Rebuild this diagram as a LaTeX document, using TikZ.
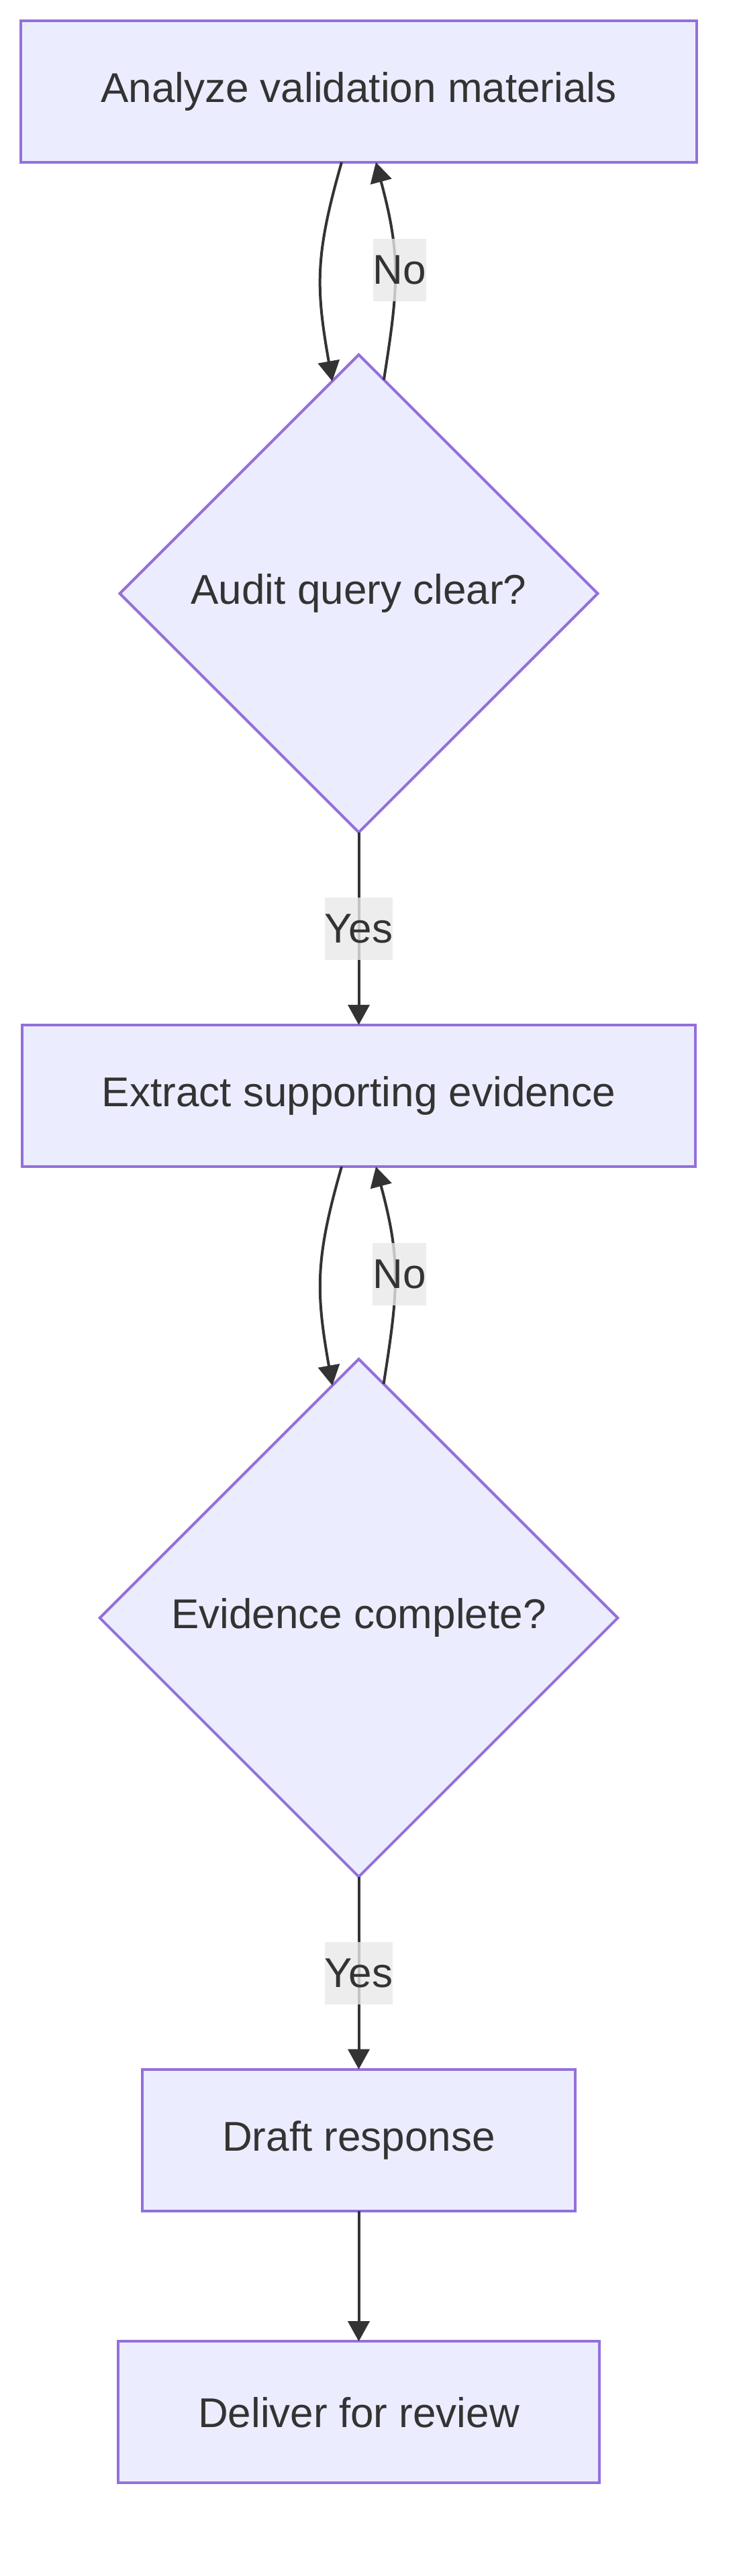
\documentclass[tikz,border=0pt]{standalone}
\usepackage{fontspec}
\setmainfont{Liberation Sans}
\usepackage{tikz}
\usetikzlibrary{
    shapes.geometric, arrows.meta, positioning, calc
}
\definecolor{node_fill}{HTML}{ECECFF}
\definecolor{node_line}{HTML}{9370DB}
\definecolor{edge_line}{HTML}{333333}
\definecolor{label_fill}{HTML}{E8E8E8}

\begin{document}
\begin{tikzpicture}
    % Define styles for the nodes
    \tikzstyle{step_box} = [
        text centered, draw=node_line, fill=node_fill, line width=2pt,
        minimum height=105.6pt, inner xsep=59.5pt, outer sep=0pt,
        text=edge_line, font=\fontsize{31pt}{46.5pt}\selectfont
    ]
    \tikzstyle{choice_box} = [
        diamond, aspect=1, text centered, draw=node_line, fill=node_fill,
        line width=2pt, inner sep=0pt, outer sep=0pt, text=edge_line,
        font=\fontsize{31pt}{46.5pt}\selectfont
    ]
    \tikzstyle{edge_label} = [
        fill=label_fill, fill opacity=0.8, text opacity=1, text=edge_line,
        inner sep=0pt, minimum height=46.5pt,
        font=\fontsize{31pt}{46.5pt}\selectfont
    ]
    \tikzstyle{flow} = [
        draw=edge_line, line width=2pt,
        -{Triangle[length=15pt, width=16pt]}
    ]

    \useasboundingbox (-267.25pt, 68.1pt) rectangle (282.75pt, -1851.9pt);

    % Query check
    \node[step_box] (analyze) {Analyze validation materials};
    \node[
        choice_box, minimum width=356pt, minimum height=356pt,
        below=143.5pt of analyze
    ] (query_clear) {Audit query clear?};

    % Evidence check
    \node[step_box, below=143.5pt of query_clear] (extract) {Extract supporting evidence};
    \node[
        choice_box, minimum width=385.8pt, minimum height=385.8pt,
        below=143.5pt of extract
    ] (evidence_ok) {Evidence complete?};

    % Output
    \node[step_box, below=143.5pt of evidence_ok] (draft) {Draft response};
    \node[step_box, below=97.2pt of draft] (deliver) {Deliver for review};

    % Loop between analyze and query check
    \draw[flow, out=254, in=100, looseness=1.12] ([xshift=-12.75pt]analyze.south)
        to ($(query_clear.north)!0.111!(query_clear.west)$);
    \draw[flow, out=81, in=-75, looseness=1.13] ($(query_clear.north)!0.105!(query_clear.east)$)
        to node[edge_label, pos=0.5, xshift=3.5pt] (no_query) {No} ([xshift=12.75pt]analyze.south);

    \draw[flow] (query_clear.south) -- node[edge_label] (yes_query) {Yes} (extract.north);

    % Loop between extract and evidence check
    \draw[flow, out=254, in=100, looseness=1.12] ([xshift=-12.75pt]extract.south)
        to ($(evidence_ok.north)!0.102!(evidence_ok.west)$);
    \draw[flow, out=81, in=-75, looseness=1.13] ($(evidence_ok.north)!0.096!(evidence_ok.east)$)
        to node[edge_label, pos=0.5, xshift=3.5pt] (no_evidence) {No} ([xshift=12.75pt]extract.south);

    \draw[flow] (evidence_ok.south) -- node[edge_label] (yes_evidence) {Yes} (draft.north);

    \draw[flow] (draft.south) -- (deliver.north);

\end{tikzpicture}
\end{document}
